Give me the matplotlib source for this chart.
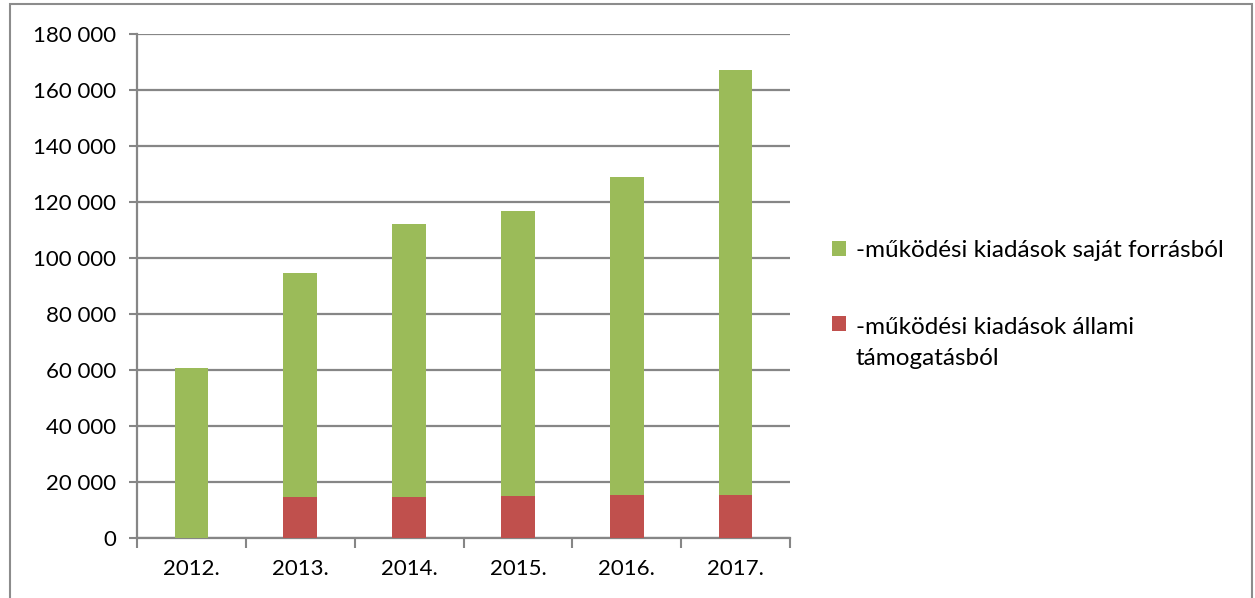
import matplotlib
matplotlib.use("Agg")
import matplotlib.pyplot as plt
from matplotlib.patches import Rectangle, Patch
from matplotlib.legend_handler import HandlerPatch

years = ["2012.", "2013.", "2014.", "2015.", "2016.", "2017."]
allami = [0, 14600, 14700, 15100, 15200, 15200]
sajat = [60700, 80200, 97400, 101700, 113800, 151800]
yticks = [0, 20000, 40000, 60000, 80000, 100000, 120000, 140000, 160000, 180000]
ytick_labels = ["0", "20 000", "40 000", "60 000", "80 000", "100 000",
                "120 000", "140 000", "160 000", "180 000"]
label_sajat = "-működési kiadások saját forrásból"
label_allami = "-működési kiadások állami\ntámogatásból"

plt.rcParams['font.family'] = ['Lato', 'DejaVu Sans']

W, H = 1255, 598
fig = plt.figure(figsize=(W / 100, H / 100), dpi=100)
ax = fig.add_axes([137 / W, (H - 538) / H, (790 - 137) / W, (538 - 34) / H])

green = "#9BBB59"
red = "#C0504D"
grid_c = "#868686"

x = list(range(len(years)))
bw = 0.31
ax.bar(x, allami, width=bw, color=red, zorder=3)
ax.bar(x, sajat, width=bw, bottom=allami, color=green, zorder=3)

ax.set_xlim(-0.5, len(years) - 0.5)
ax.set_ylim(0, 180000)
ax.set_yticks(yticks)
ax.set_yticklabels(ytick_labels)
ax.set_xticks(x)
ax.set_xticklabels(years)
ax.set_xticks([i - 0.5 for i in range(len(years) + 1)], minor=True)
ax.tick_params(axis='x', which='major', length=0, pad=15, labelsize=16, colors='black')
ax.tick_params(axis='x', which='minor', length=7, width=1.5, color=grid_c, direction='out')
ax.tick_params(axis='y', which='major', length=6, width=1.5, color=grid_c, pad=9, labelsize=16)

ax.yaxis.grid(True, color=grid_c, linewidth=1.6, zorder=0)
ax.set_axisbelow(True)
for s in ['top', 'right']:
    ax.spines[s].set_visible(False)
for s in ['left', 'bottom']:
    ax.spines[s].set_color(grid_c)
    ax.spines[s].set_linewidth(1.6)


class TopHandler(HandlerPatch):
    def __init__(self, offset=0.0, **kw):
        super().__init__(**kw)
        self.offset = offset

    def create_artists(self, legend, orig_handle, xdescent, ydescent, width,
                       height, fontsize, trans):
        p = Rectangle((-xdescent, -ydescent + self.offset), width, height,
                      facecolor=orig_handle.get_facecolor(), edgecolor='none',
                      transform=trans)
        return [p]


h_green = Patch(color=green)
h_red = Patch(color=red)
leg = fig.legend([h_green, h_red], [label_sajat, label_allami],
                 loc='upper left', bbox_to_anchor=(832 / W, 1 - 240 / H),
                 frameon=False, fontsize=17.5, handlelength=0.58, handleheight=0.58,
                 handletextpad=0.4, labelspacing=2.3, borderpad=0, borderaxespad=0,
                 handler_map={h_green: TopHandler(0), h_red: TopHandler(14.2)})
for t in leg.get_texts():
    t.set_linespacing(1.62)

fig.patches.append(Rectangle((10 / W, -0.01), (1252 - 10) / W, (H - 4) / H + 0.01,
                             transform=fig.transFigure, fill=False,
                             edgecolor="#8C8C8C", linewidth=1.5))

fig.savefig("out.png", dpi=100)
